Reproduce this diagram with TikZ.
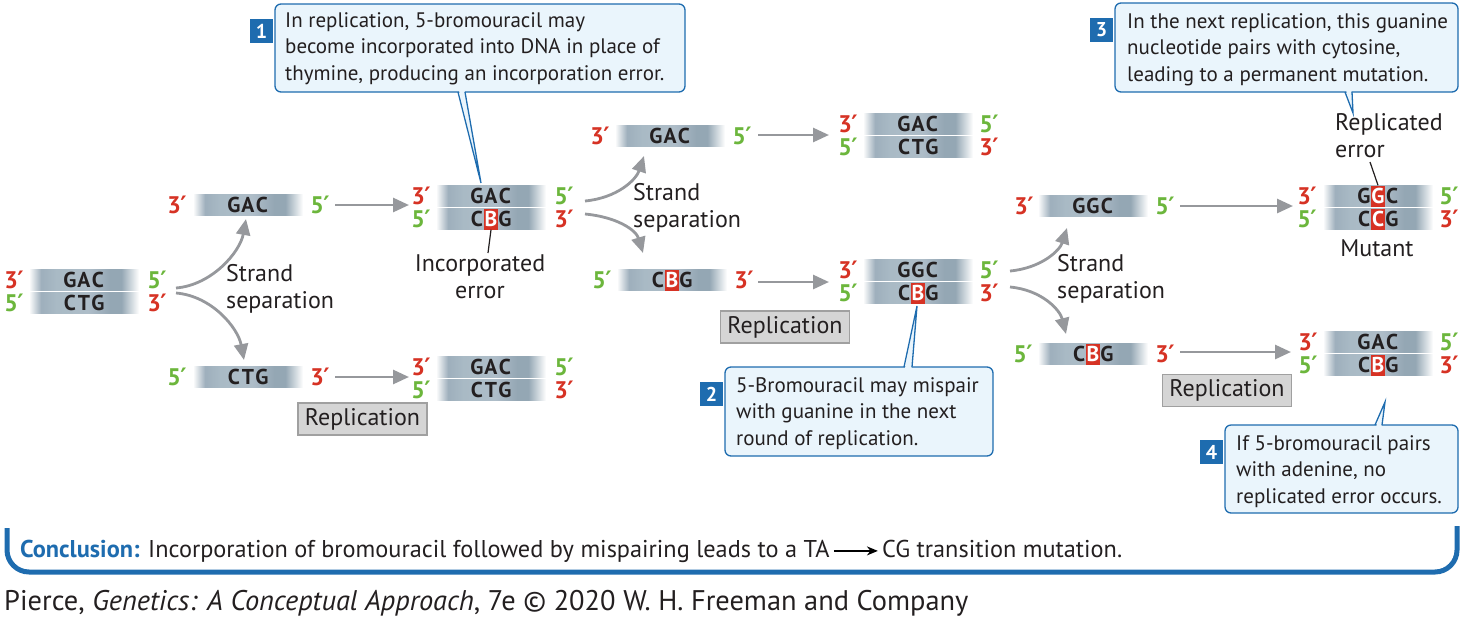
\documentclass[tikz,border=0pt]{standalone}
\usepackage{fontspec}
\setmainfont{PT Sans}
\newfontfamily\dvs{DejaVu Sans}
\usetikzlibrary{arrows.meta}
\definecolor{rd}{RGB}{214,50,36}
\definecolor{gn}{RGB}{108,182,60}
\definecolor{cb}{RGB}{30,108,175}
\definecolor{cf}{RGB}{234,245,252}
\definecolor{ag}{RGB}{150,152,156}
\definecolor{tx}{RGB}{35,31,32}
\definecolor{rbF}{RGB}{213,213,213}
\definecolor{rbD}{RGB}{160,160,160}
\definecolor{sbA}{RGB}{158,175,188}
\definecolor{sbB}{RGB}{169,186,197}
\definecolor{sbM}{RGB}{174,189,200}
\definecolor{sbD}{RGB}{148,167,180}
\pgfdeclarehorizontalshading{strandsh}{100bp}{color(0bp)=(white); color(25bp)=(white); color(30.5bp)=(sbA); color(37.5bp)=(sbB); color(52bp)=(sbM); color(62bp)=(sbD); color(67bp)=(sbD); color(75bp)=(white); color(100bp)=(white)}
\newcommand\Sst{\rule[-3pt]{0pt}{21pt}}
\newcommand\Ltr[1]{\makebox[14pt]{#1}}
\newcommand\Err[1]{{\setlength\fboxsep{0pt}\colorbox{rd}{\makebox[14pt]{\Sst\textcolor{white}{#1}}}}}
\newcommand\Prm{{\dvs\bfseries\kern-0.5pt ′}}
\tikzset{
  every node/.style={text=tx, font=\fontsize{21}{26.5}\selectfont},
  strand/.style={shade, shading=strandsh, inner sep=0pt, minimum width=110pt, minimum height=21pt, font=\fontsize{21.5}{21}\selectfont\bfseries},
  lab/.style={inner sep=0pt, font=\fontsize{24}{24}\selectfont\bfseries},
  r3/.style={lab, text=rd},
  g5/.style={lab, text=gn},
  arr/.style={draw=ag, line width=2.8pt, -{Triangle[length=16pt,width=14pt]}},
  callbox/.style={draw=cb, fill=cf, line width=1.3pt, rounded corners=6pt, inner sep=0pt},
  badge/.style={fill=cb, text=white, font=\fontsize{20}{20}\selectfont\bfseries, minimum width=23pt, minimum height=24pt, inner sep=0pt},
  ctext/.style={anchor=north west, align=left, inner sep=0pt},
  ltext/.style={inner sep=0pt, font=\fontsize{24}{27}\selectfont},
  repl/.style={fill=rbF, draw=rbD, line width=1.5pt, minimum width=129pt, minimum height=32pt, inner sep=0pt, font=\fontsize{24}{27}\selectfont},
  ptr/.style={draw=cb, line width=1.3pt},
  ptrfill/.style={fill=cf},
  errline/.style={draw=tx, line width=1.2pt},
}
\begin{document}
\begin{tikzpicture}[x=1pt,y=-1pt]
\useasboundingbox (0,0) rectangle (1464,619);

% ---------- left duplex ----------
\node[strand] (s0t) at (84,279.5) {\Sst\Ltr{G}\Ltr{A}\Ltr{C}};
\node[strand] (s0b) at (84,302.5) {\Sst\Ltr{C}\Ltr{T}\Ltr{G}};
\node[r3] (l0a) at (14,279.5) {3\Prm};
\node[g5] (l0b) at (157,279.5) {5\Prm};
\node[g5] (l0c) at (14,302.5) {5\Prm};
\node[r3] (l0d) at (157,302.5) {3\Prm};

% split A
\coordinate (aU0) at (176,288); \coordinate (aU1) at (246,219);
\coordinate (aL0) at (176,293); \coordinate (aL1) at (244,360);
\draw[arr] (aU0) .. controls (212,285) and (240,252) .. (aU1);
\draw[arr] (aL0) .. controls (212,296) and (238,328) .. (aL1);
\node[ltext, anchor=north west, align=left] (ssA) at (226,264.5) {Strand\\separation};

% single strands A
\node[strand] (s1) at (248,205) {\Sst\Ltr{G}\Ltr{A}\Ltr{C}};
\node[r3] (l1a) at (177,205) {3\Prm};
\node[g5] (l1b) at (320,205) {5\Prm};
\node[strand] (s2) at (248,376.5) {\Sst\Ltr{C}\Ltr{T}\Ltr{G}};
\node[g5] (l2a) at (177,376.5) {5\Prm};
\node[r3] (l2b) at (320,376.5) {3\Prm};

\coordinate (a1s) at (335,205); \coordinate (a1e) at (409,205);
\coordinate (a2s) at (335,377); \coordinate (a2e) at (409,377);
\draw[arr] (a1s) -- (a1e);
\draw[arr] (a2s) -- (a2e);
\node[repl] (rep1) at (362.5,419) {Replication};

% duplex A (with B)
\node[strand] (sAt) at (491,196) {\Sst\Ltr{G}\Ltr{A}\Ltr{C}};
\node[strand] (sAb) at (491,219) {\Sst\Ltr{C}\Err{B}\Ltr{G}};
\node[r3] (lAa) at (421,196) {3\Prm};
\node[g5] (lAb) at (564,196) {5\Prm};
\node[g5] (lAc) at (421,219) {5\Prm};
\node[r3] (lAd) at (564,219) {3\Prm};
\coordinate (errA) at (488,253);
\draw[errline] (sAb.south) -- (errA);
\node[ltext, anchor=north, align=center] (incA) at (480,254.5) {Incorporated\\error};

% duplex B (bottom left)
\node[strand] (sBt) at (491,367) {\Sst\Ltr{G}\Ltr{A}\Ltr{C}};
\node[strand] (sBb) at (491,390) {\Sst\Ltr{C}\Ltr{T}\Ltr{G}};
\node[r3] (lBa) at (421,367) {3\Prm};
\node[g5] (lBb) at (564,367) {5\Prm};
\node[g5] (lBc) at (421,390) {5\Prm};
\node[r3] (lBd) at (564,390) {3\Prm};

% callout 1
\node[callbox, minimum width=410pt, minimum height=88pt] (c1) at (480,48) {};
\coordinate (t1) at (481,183);
\fill[ptrfill] (458.7,89) -- (464.3,89) -- (t1) -- cycle;
\draw[ptr] (458,92) -- (t1) -- (465,92);
\node[badge] (b1) at (261.5,31) {1};
\node[ctext] (c1t) at (285,12) {In replication, 5-bromouracil may\\become incorporated into DNA in place of\\thymine, producing an incorporation error.};

% ---------- middle ----------
\coordinate (mU0) at (585,201); \coordinate (mU1) at (644,156);
\coordinate (mL0) at (585,214); \coordinate (mL1) at (643,253);
\draw[arr] (mU0) .. controls (617,198) and (636,180) .. (mU1);
\draw[arr] (mL0) .. controls (617,217) and (636,230) .. (mL1);
\node[ltext, anchor=north west, align=left] (ssM) at (633,183.5) {Strand\\separation};

\node[strand] (s3) at (670,136) {\Sst\Ltr{G}\Ltr{A}\Ltr{C}};
\node[r3] (l3a) at (600,136) {3\Prm};
\node[g5] (l3b) at (742,136) {5\Prm};
\coordinate (a3s) at (758,135); \coordinate (a3e) at (829,135);
\draw[arr] (a3s) -- (a3e);

\node[strand] (sEt) at (918,124) {\Sst\Ltr{G}\Ltr{A}\Ltr{C}};
\node[strand] (sEb) at (918,147) {\Sst\Ltr{C}\Ltr{T}\Ltr{G}};
\node[r3] (lEa) at (848,124) {3\Prm};
\node[g5] (lEb) at (989,124) {5\Prm};
\node[g5] (lEc) at (848,147) {5\Prm};
\node[r3] (lEd) at (989,147) {3\Prm};

\node[strand] (s4) at (672,280) {\Sst\Ltr{C}\Err{B}\Ltr{G}};
\node[g5] (l4a) at (602,280) {5\Prm};
\node[r3] (l4b) at (744,280) {3\Prm};
\coordinate (a4s) at (758,282); \coordinate (a4e) at (829,282);
\draw[arr] (a4s) -- (a4e);

\node[strand] (sCt) at (918,270) {\Sst\Ltr{G}\Ltr{G}\Ltr{C}};
\node[strand] (sCb) at (918,293) {\Sst\Ltr{C}\Err{B}\Ltr{G}};
\node[r3] (lCa) at (848,270) {3\Prm};
\node[g5] (lCb) at (989,270) {5\Prm};
\node[g5] (lCc) at (848,293) {5\Prm};
\node[r3] (lCd) at (989,293) {3\Prm};
\node[repl] (rep2) at (785,327) {Replication};

% callout 2
\node[callbox, minimum width=268pt, minimum height=89pt] (c2) at (859,411.5) {};
\coordinate (t2) at (917,306);
\fill[ptrfill] (904.7,370) -- (911.3,370) -- (t2) -- cycle;
\draw[ptr] (904,367) -- (t2) -- (912,367);
\node[badge] (b2) at (711.5,394) {2};
\node[ctext] (c2t) at (736,377) {5-Bromouracil may mispair\\with guanine in the next\\round of replication.};

% ---------- right ----------
\coordinate (rU0) at (1010,271); \coordinate (rU1) at (1067,228);
\coordinate (rL0) at (1010,287); \coordinate (rL1) at (1066,334);
\draw[arr] (rU0) .. controls (1042,268) and (1060,250) .. (rU1);
\draw[arr] (rL0) .. controls (1042,290) and (1060,310) .. (rL1);
\node[ltext, anchor=north west, align=left] (ssR) at (1057,254.5) {Strand\\separation};

\node[strand] (s5) at (1093,206) {\Sst\Ltr{G}\Ltr{G}\Ltr{C}};
\node[r3] (l5a) at (1024,206) {3\Prm};
\node[g5] (l5b) at (1165,206) {5\Prm};
\coordinate (a5s) at (1180,206); \coordinate (a5e) at (1293,206);
\draw[arr] (a5s) -- (a5e);

\node[strand] (sMt) at (1378,196) {\Sst\Ltr{G}\Err{G}\Ltr{C}};
\node[strand] (sMb) at (1378,219) {\Sst\Ltr{C}\Err{C}\Ltr{G}};
\node[r3] (lMa) at (1307,196) {3\Prm};
\node[g5] (lMb) at (1449,196) {5\Prm};
\node[g5] (lMc) at (1307,219) {5\Prm};
\node[r3] (lMd) at (1449,219) {3\Prm};
\node[ltext, anchor=north west, align=left] (repErr) at (1335,113.5) {Replicated\\error};
\coordinate (reA) at (1370,162);
\draw[errline] (reA) -- (sMt.north);
\node[ltext, anchor=north] (mut) at (1377,239.5) {Mutant};

% callout 3
\node[callbox, minimum width=343pt, minimum height=89pt] (c3) at (1286.5,47.5) {};
\coordinate (t3) at (1353,113);
\fill[ptrfill] (1345.7,89) -- (1351.3,89) -- (t3) -- cycle;
\draw[ptr] (1345,92) -- (t3) -- (1352,92);
\node[badge] (b3) at (1101.5,30) {3};
\node[ctext] (c3t) at (1127,13) {In the next replication, this guanine\\nucleotide pairs with cytosine,\\leading to a permanent mutation.};

\node[strand] (s6) at (1093,354) {\Sst\Ltr{C}\Err{B}\Ltr{G}};
\node[g5] (l6a) at (1023,354) {5\Prm};
\node[r3] (l6b) at (1165,354) {3\Prm};
\coordinate (a6s) at (1180,352); \coordinate (a6e) at (1291,352);
\draw[arr] (a6s) -- (a6e);

\node[strand] (sDt) at (1378,342) {\Sst\Ltr{G}\Ltr{A}\Ltr{C}};
\node[strand] (sDb) at (1378,365) {\Sst\Ltr{C}\Err{B}\Ltr{G}};
\node[r3] (lDa) at (1308,342) {3\Prm};
\node[g5] (lDb) at (1449,342) {5\Prm};
\node[g5] (lDc) at (1308,365) {5\Prm};
\node[r3] (lDd) at (1449,365) {3\Prm};
\node[repl] (rep3) at (1227,390.5) {Replication};

% callout 4
\node[callbox, minimum width=233pt, minimum height=88pt] (c4) at (1341.5,469) {};
\coordinate (t4) at (1385,402);
\fill[ptrfill] (1375.7,428) -- (1381.3,428) -- (t4) -- cycle;
\draw[ptr] (1375,425) -- (t4) -- (1382,425);
\node[badge] (b4) at (1211.5,452) {4};
\node[ctext] (c4t) at (1236,435) {If 5-bromouracil pairs\\with adenine, no\\replicated error occurs.};

% ---------- conclusion ----------
\draw[cb, line width=5pt] (7,528) -- (7,550) arc[start angle=180, end angle=90, radius=22] -- (1435,572) arc[start angle=90, end angle=0, radius=22] -- (1457,526);
\node[anchor=base west, inner sep=0pt, font=\fontsize{24.3}{27}\selectfont] (con1) at (20,557) {\textcolor{cb}{\bfseries Conclusion:} Incorporation of bromouracil followed by mispairing leads to a TA};
\node[anchor=base west, inner sep=0pt, font=\fontsize{24.3}{27}\selectfont] (con2) at ([xshift=52pt]con1.base east) {CG transition mutation.};
\draw[black, line width=1.5pt, -{Stealth[length=11pt,width=9pt]}] ([xshift=4pt]con1.east) -- ([xshift=-4pt]con1.east -| con2.west);

\node[anchor=base west, inner sep=0pt, font=\fontsize{28.4}{28.4}\selectfont] (foot) at (4,610) {Pierce, \textit{Genetics: A Conceptual Approach}, 7e © 2020 W. H. Freeman and Company};
\end{tikzpicture}
\end{document}
